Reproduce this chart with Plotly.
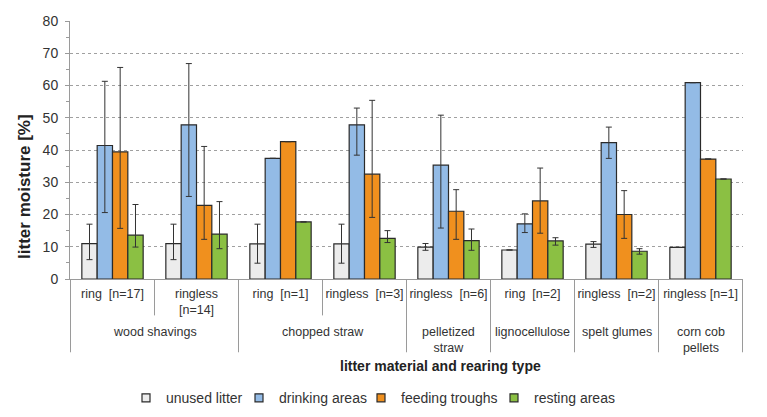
import plotly.graph_objects as go

# ---- data ----
sub_labels = ["ring\u00a0 [n=17]", "ringless<br>[n=14]", "ring\u00a0 [n=1]", "ringless\u00a0 [n=3]",
              "ringless\u00a0 [n=6]", "ring\u00a0 [n=2]", "ringless\u00a0 [n=2]", "ringless [n=1]"]
group_labels = ["wood shavings", "chopped straw", "pelletized<br>straw", "lignocellulose",
                "spelt glumes", "corn cob<br>pellets"]
group_sizes = [2, 2, 1, 1, 1, 1]

series_names = ["unused litter", "drinking areas", "feeding troughs", "resting areas"]

unused = [11.0, 11.0, 10.9, 10.9, 9.9, 9.0, 10.8, 9.8]
drinking = [41.4, 47.8, 37.4, 47.8, 35.3, 17.1, 42.3, 60.9]
feeding = [39.4, 22.8, 42.6, 32.5, 21.0, 24.2, 20.0, 37.2]
resting = [13.6, 13.9, 17.7, 12.6, 11.9, 11.8, 8.6, 31.0]

unused_plus = [6.0, 6.0, 6.1, 6.1, 1.1, None, 0.8, None]
unused_minus = [5.0, 5.0, 6.0, 6.0, 1.0, None, 1.0, None]
drinking_plus = [19.9, 19.0, None, 5.2, 15.5, 3.1, 4.8, None]
drinking_minus = [20.8, 22.2, None, 9.4, 19.5, 2.7, 4.9, None]
feeding_plus = [26.2, 18.3, None, 22.9, 6.7, 10.2, 7.4, None]
feeding_minus = [23.7, 10.5, None, 13.4, 8.7, 10.0, 7.4, None]
resting_plus = [9.5, 10.1, None, 2.4, 3.6, 1.0, 0.8, None]
resting_minus = [3.7, 4.5, None, 1.3, 3.0, 1.3, 0.9, None]

y_ticks = [0, 10, 20, 30, 40, 50, 60, 70, 80]

# ---- styling ----
FONT = "Liberation Sans, Arial, sans-serif"
colors = ["#ECECEC", "#93BBE6", "#F0901E", "#8BC043"]
legend_widths = [68, 77, 88, 93]
values = [unused, drinking, feeding, resting]
plus = [unused_plus, drinking_plus, feeding_plus, resting_plus]
minus = [unused_minus, drinking_minus, feeding_minus, resting_minus]

fig = go.Figure()
for name, vals, p, m, c in zip(series_names, values, plus, minus, colors):
    fig.add_trace(go.Bar(
        x=sub_labels, y=vals, name=name, showlegend=False,
        marker=dict(color=c, line=dict(color="#2A2A2A", width=1.2)),
        error_y=dict(type="data", symmetric=False, array=p, arrayminus=m,
                     color="#333333", thickness=1, width=3),
    ))

# legend proxies (small squares)
for name, c, lw in zip(series_names, colors, legend_widths):
    fig.add_trace(go.Scatter(
        x=[None], y=[None], mode="markers", name=name, legendwidth=lw,
        marker=dict(symbol="square", size=8, color=c, line=dict(color="#2A2A2A", width=1.2)),
    ))

# dividers and group labels
GROUP_BOTTOM = -0.284
SUB_BOTTOM = -0.141
DIV = dict(color="#9A9A9A", width=1)
pos = 0
fig.add_shape(type="line", xref="x", yref="paper", x0=-0.5, x1=-0.5, y0=0, y1=GROUP_BOTTOM, line=DIV)
for g, n in zip(group_labels, group_sizes):
    for k in range(1, n):
        fig.add_shape(type="line", xref="x", yref="paper", x0=pos + k - 0.5, x1=pos + k - 0.5,
                      y0=0, y1=SUB_BOTTOM, line=DIV)
    end = pos + n - 0.5
    fig.add_shape(type="line", xref="x", yref="paper", x0=end, x1=end, y0=0, y1=GROUP_BOTTOM, line=DIV)
    fig.add_annotation(x=pos + (n - 1) / 2, xref="x", y=-0.172, yref="paper", text=g,
                       showarrow=False, yanchor="top", xanchor="center",
                       font=dict(family=FONT, size=12.5, color="#333333"))
    pos += n

fig.add_annotation(x=(25 - 70) / 673, xref="paper", y=0.357, yref="paper",
                   xanchor="center", yanchor="middle",
                   text="<b>litter moisture [%]</b>", textangle=-90, showarrow=False,
                   font=dict(family=FONT, size=17, color="#222222"))

fig.add_annotation(x=0.55, xref="paper", y=-0.338, yref="paper", xanchor="center", yanchor="middle",
                   text="<b>litter material and rearing type</b>", showarrow=False,
                   font=dict(family=FONT, size=14, color="#222222"))

# the page body adds an 8px offset, so the figure is sized to the remaining window
fig.update_layout(
    width=759, height=409,
    margin=dict(l=62, r=24, t=13, b=138, autoexpand=False),
    paper_bgcolor="white", plot_bgcolor="white",
    barmode="group", bargap=0.27, bargroupgap=0,
    font=dict(family=FONT, size=12.5, color="#333333"),
    legend=dict(orientation="h", x=(126 - 70) / 673, xanchor="left", y=-0.462, yanchor="middle",
                font=dict(family=FONT, size=14, color="#333333"), itemwidth=30,
                bgcolor="rgba(0,0,0,0)"),
    xaxis=dict(type="category", showline=True, linecolor="#9A9A9A", linewidth=1,
               ticks="", showgrid=False, tickfont=dict(family=FONT, size=12.5, color="#333333"),
               ticklabelstandoff=3, automargin=False),
    yaxis=dict(range=[0, 80], tickvals=y_ticks, showline=True, linecolor="#9A9A9A", linewidth=1,
               ticks="outside", ticklen=4, tickcolor="#9A9A9A",
               minor=dict(dtick=5, ticks="outside", ticklen=3, tickcolor="#9A9A9A", showgrid=False),
               showgrid=True, gridcolor="#A0A0A0", griddash="dot", gridwidth=1,
               zeroline=False, ticklabelstandoff=4, automargin=False,
               tickfont=dict(family=FONT, size=14, color="#333333")),
)

fig.write_html("out.html")
